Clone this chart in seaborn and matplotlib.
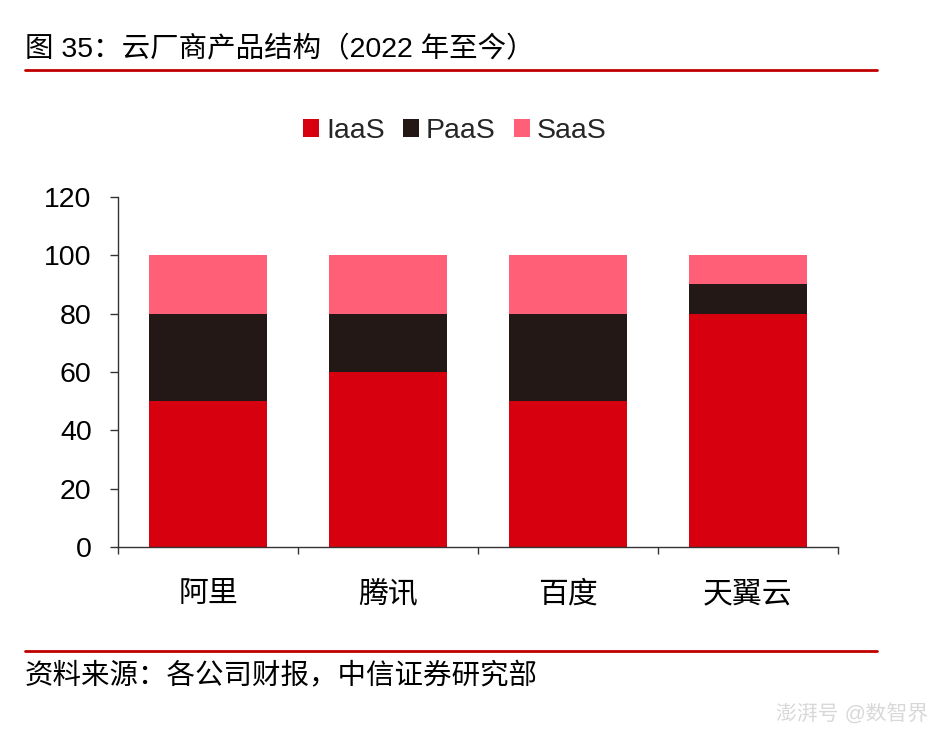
import numpy as np
import pandas as pd
import matplotlib
matplotlib.use("Agg")
import matplotlib.pyplot as plt
import seaborn as sns

# 数据
companies = ['阿里', '腾讯', '百度', '天翼云']
iaas = [50, 60, 50, 80]
paas = [30, 20, 30, 10]
saas = [20, 20, 20, 10]

series_names = ['IaaS', 'PaaS', 'SaaS']
colors = ['#D7000F', '#231815', '#FF6077']

sns.set_style('white')
plt.rcParams['font.family'] = ['Liberation Sans', 'Noto Sans CJK SC', 'DejaVu Sans']

fig = plt.figure(figsize=(9.42, 7.32), dpi=100)
ax = fig.add_axes([0.1253, 0.2527, 0.7643, 0.4782])

# 堆叠：先画总和，再依次覆盖
df = pd.DataFrame({'公司': companies, 'IaaS': iaas, 'PaaS': paas, 'SaaS': saas})
df['c1'] = df['IaaS']
df['c2'] = df['IaaS'] + df['PaaS']
df['c3'] = df['c2'] + df['SaaS']

for col, name, c in [('c3', 'SaaS', colors[2]), ('c2', 'PaaS', colors[1]), ('c1', 'IaaS', colors[0])]:
    sns.barplot(data=df, x='公司', y=col, color=c, width=0.66, ax=ax,
                edgecolor='none', linewidth=0, saturation=1, label=name)

ax.set_xlim(-0.5, len(companies) - 0.5)
ax.set_ylim(0, 120)
ax.set_yticks(np.arange(0, 121, 20))
ax.set_xlabel('')
ax.set_ylabel('')

for s in ['top', 'right']:
    ax.spines[s].set_visible(False)
for s in ['left', 'bottom']:
    ax.spines[s].set_color('#333333')
    ax.spines[s].set_linewidth(1.0)

ax.tick_params(axis='y', which='major', direction='out', length=6, width=1,
               color='#333333', labelsize=20.5, pad=13, left=True, labelcolor='black')
ax.set_xticks(np.arange(-0.5, len(companies), 1.0), minor=True)
ax.tick_params(axis='x', which='minor', direction='out', length=5, width=1,
               color='#333333', bottom=True)
ax.tick_params(axis='x', which='major', length=0, labelsize=21.5, pad=24, labelcolor='black')

# 图例
handles, labels = ax.get_legend_handles_labels()
order = ['IaaS', 'PaaS', 'SaaS']
hmap = dict(zip(labels, handles))
fig.legend([hmap[k] for k in order], order, loc='center', bbox_to_anchor=(0.483, 0.821),
           ncol=3, frameon=False, fontsize=20.5, handlelength=0.55, handleheight=0.55,
           handletextpad=0.25, columnspacing=0.65)
if ax.get_legend() is not None:
    ax.get_legend().remove()

# 标题与来源
fig.text(25 / 942, 1 - 50 / 732, '图 35：云厂商产品结构（2022 年至今）', fontsize=20.5,
         va='center', ha='left', color='black')
fig.add_artist(plt.Line2D([25 / 942, 877 / 942], [1 - 70 / 732, 1 - 70 / 732],
                          color='#C00000', linewidth=2))
fig.add_artist(plt.Line2D([25 / 942, 877 / 942], [1 - 651 / 732, 1 - 651 / 732],
                          color='#C00000', linewidth=2))
fig.text(25 / 942, 1 - 677 / 732, '资料来源：各公司财报，中信证券研究部', fontsize=20.5,
         va='center', ha='left', color='black')

# 水印
fig.text(928 / 942, 1 - 714 / 732, '澎湃号 @数智界', fontsize=15, va='center', ha='right',
         color='#D8D8D8', style='italic')

fig.savefig('out.png', dpi=100)
